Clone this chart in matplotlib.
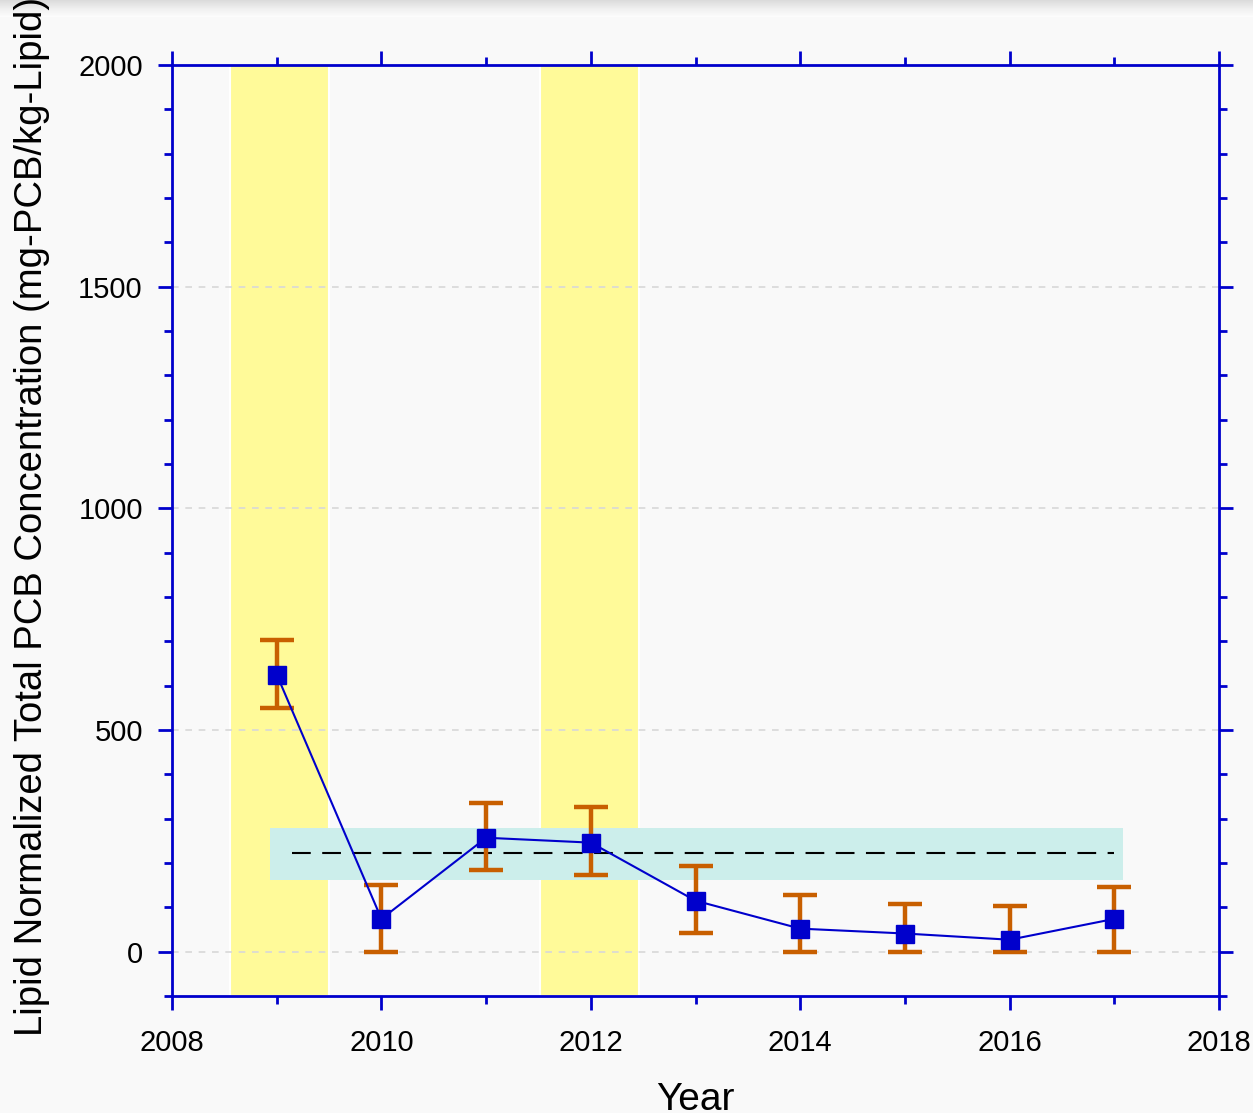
import matplotlib.pyplot as plt
import numpy as np
from matplotlib.ticker import MultipleLocator

# Data
years = [2009, 2010, 2011, 2012, 2013, 2014, 2015, 2016, 2017]
conc = [625, 74, 257, 246, 115, 52, 41, 27, 74]
err_low = [550, 0, 185, 174, 43, 0, 0, 0, 0]
err_high = [703, 151, 336, 327, 194, 128, 108, 104, 147]

# highlighted periods (yellow) and reference range (cyan)
periods = [(2008.55, 2009.5), (2011.51, 2012.46)]
range_x = (2008.94, 2017.08)
range_y = (162, 280)
range_mean = 223
mean_x = (2009.15, 2017.0)

bg = '#f9f9f9'
blue = '#0000cc'
orange = '#c85f00'

plt.rcParams['font.family'] = ['Liberation Sans', 'DejaVu Sans']

fig = plt.figure(figsize=(12.53, 11.13), dpi=100, facecolor=bg)

# soft grey shading at the very top of the picture
top = fig.add_axes([0, 0.985, 1, 0.015])
grad = np.linspace(0, 1, 50).reshape(-1, 1)
top.imshow(grad, aspect='auto', cmap='Greys_r', vmin=-3.5, vmax=1.1,
           extent=[0, 1, 0, 1])
top.axis('off')

ax = fig.add_axes([0.1373, 0.1051, 0.8356, 0.8365])
ax.set_facecolor(bg)

# Bands
for x0, x1 in periods:
    ax.axvspan(x0, x1, facecolor='#fffa99', edgecolor='white',
               linewidth=1.5, zorder=0.2)
ax.fill_between(range_x, range_y[0], range_y[1], color='#cceeeb',
                linewidth=0, zorder=0.3)
ax.plot(mean_x, [range_mean, range_mean], color='black', lw=1.5,
        dashes=(9, 5.5), zorder=2)

# Series with error bars
low = np.array(conc) - np.array(err_low)
high = np.array(err_high) - np.array(conc)
ax.errorbar(years, conc, yerr=[low, high], fmt='none', ecolor=orange,
            elinewidth=3.2, capsize=12, capthick=3.2, zorder=3)
ax.plot(years, conc, color=blue, lw=1.5, marker='s', markersize=12.5,
        markerfacecolor=blue, markeredgecolor=blue, zorder=4)

ax.set_xlim(2008, 2018)
ax.set_ylim(-100, 2000)
ax.xaxis.set_major_locator(MultipleLocator(2))
ax.xaxis.set_minor_locator(MultipleLocator(1))
ax.yaxis.set_major_locator(MultipleLocator(500))
ax.yaxis.set_minor_locator(MultipleLocator(100))

ax.set_axisbelow(True)
ax.yaxis.grid(True, which='major', color='#d8d8d8', linestyle=(0, (4, 4)),
              linewidth=1.2)

for s in ax.spines.values():
    s.set_color(blue)
    s.set_linewidth(2)

ax.tick_params(which='both', direction='out', color=blue, width=2,
               top=True, right=True, labelsize=21, labelcolor='black')
ax.tick_params(which='major', length=10)
ax.tick_params(which='minor', length=6)
ax.tick_params(axis='x', which='major', pad=14)
ax.tick_params(axis='y', which='major', pad=11)

ax.set_xlabel('Year', fontsize=28, labelpad=18)
ax.set_ylabel('Lipid Normalized Total PCB Concentration (mg-PCB/kg-Lipid)',
              fontsize=27.5)
ax.yaxis.set_label_coords(-0.117, 0.515)

plt.savefig('out.png', dpi=100, facecolor=bg)
